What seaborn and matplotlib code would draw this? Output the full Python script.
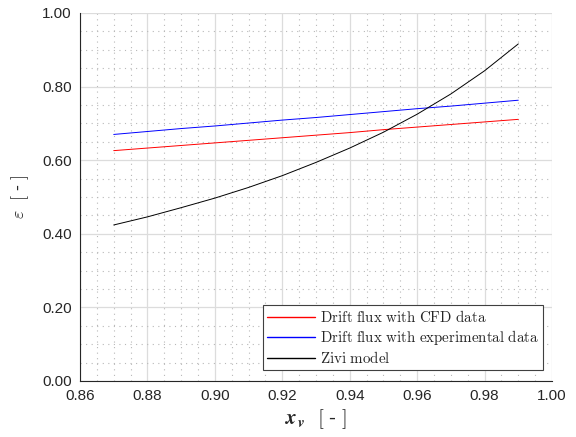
import numpy as np
import pandas as pd
import matplotlib
matplotlib.use("Agg")
import matplotlib.pyplot as plt
import seaborn as sns
from matplotlib.ticker import MultipleLocator
from matplotlib.lines import Line2D

x_vals = [0.87, 0.88, 0.89, 0.90, 0.91, 0.92, 0.93, 0.94, 0.95, 0.96, 0.97, 0.98, 0.99]
cfd = [0.626, 0.633, 0.640, 0.647, 0.654, 0.661, 0.668, 0.675, 0.683, 0.690, 0.697, 0.704, 0.711]
experimental = [0.670, 0.678, 0.686, 0.693, 0.701, 0.709, 0.716, 0.724, 0.732, 0.740, 0.747, 0.755, 0.763]
zivi = [0.424, 0.446, 0.471, 0.497, 0.526, 0.558, 0.594, 0.633, 0.676, 0.725, 0.780, 0.843, 0.916]
series_names = ["Drift flux with CFD data", "Drift flux with experimental data", "Zivi model"]
x_ticks = [0.86, 0.88, 0.90, 0.92, 0.94, 0.96, 0.98, 1.00]
y_ticks = [0.0, 0.2, 0.4, 0.6, 0.8, 1.0]

df = pd.DataFrame({
    "x": x_vals * 3,
    "eps": cfd + experimental + zivi,
    "series": [series_names[0]] * len(x_vals) + [series_names[1]] * len(x_vals) + [series_names[2]] * len(x_vals),
})

sns.set_style("white")
plt.rcParams["mathtext.fontset"] = "cm"
plt.rcParams["font.family"] = ["Liberation Sans", "DejaVu Sans"]

fig = plt.figure(figsize=(5.76, 4.37), dpi=100)
ax = fig.add_axes([80 / 576, 56 / 437, 472 / 576, 368 / 437])

palette = {series_names[0]: "#ff0000", series_names[1]: "#0000ff", series_names[2]: "#000000"}
sns.lineplot(data=df, x="x", y="eps", hue="series", palette=palette, linewidth=0.7, ax=ax, legend=False)

ax.set_xlim(0.86, 1.00)
ax.set_ylim(0.0, 1.0)
ax.set_xticks(x_ticks)
ax.set_yticks(y_ticks)
ax.set_xticklabels([f"{t:.2f}" for t in x_ticks])
ax.set_yticklabels([f"{t:.2f}" for t in y_ticks])
ax.xaxis.set_minor_locator(MultipleLocator(0.005))
ax.yaxis.set_minor_locator(MultipleLocator(0.05))
ax.grid(which="major", color="#dcdcdc", linewidth=0.9, linestyle="-")
ax.grid(which="minor", color="#b8b8b8", linewidth=0.8, linestyle=(0, (1, 4)))
ax.set_axisbelow(True)
for s in ["top", "right"]:
    ax.spines[s].set_visible(False)
for s in ["left", "bottom"]:
    ax.spines[s].set_color("#262626")
    ax.spines[s].set_linewidth(0.8)
ax.tick_params(which="major", direction="in", length=5, width=0.8, color="#262626",
               labelsize=11, labelcolor="#262626", pad=6)
ax.tick_params(which="minor", length=0)

ax.set_xlabel(r"$\mathbfit{x}_{\mathbfit{v}}\ \ [$ - $]$", fontsize=15, color="#262626", labelpad=3)
ax.set_ylabel(r"$\varepsilon\ \ [$ - $]$", fontsize=13, color="#262626", labelpad=8)

handles = [Line2D([0], [0], color=palette[n], linewidth=1.0) for n in series_names]
labels = [r"$\mathrm{" + n.replace(" ", r"\ ") + "}$" for n in series_names]
leg = ax.legend(handles, labels, loc="lower right", bbox_to_anchor=(0.98, 0.03), fontsize=10.8,
                frameon=True, fancybox=False, edgecolor="#404040", framealpha=1,
                handlelength=3.2, handletextpad=0.3, borderpad=0.25, labelspacing=0.2, borderaxespad=0)
leg.get_frame().set_linewidth(0.8)

fig.savefig("out.png", dpi=100)
